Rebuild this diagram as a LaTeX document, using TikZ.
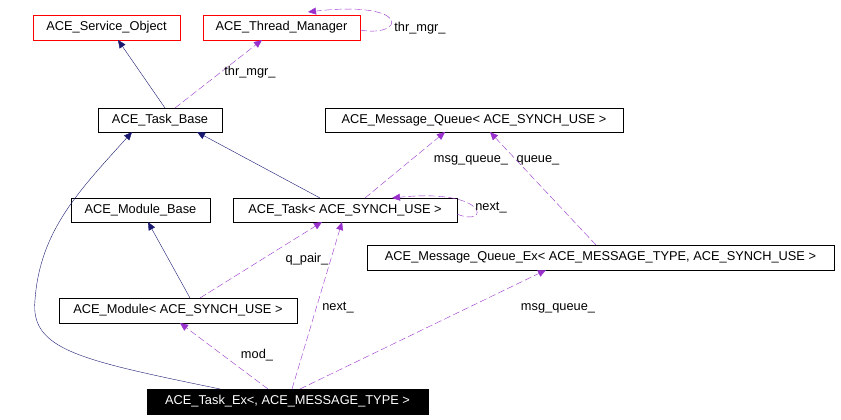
\documentclass[tikz,border=0pt]{standalone}
\usepackage{fontspec}
\setmainfont{Liberation Sans}
\usetikzlibrary{arrows.meta}
\definecolor{dpurple}{RGB}{153,50,204}
\definecolor{dnavy}{RGB}{25,25,112}
\begin{document}
\begin{tikzpicture}[x=1pt,y=-1pt,
  box/.style={draw=black,fill=white,inner sep=0pt,font=\fontsize{12.8}{14}\selectfont},
  red/.style={box,draw=red},
  inh/.style={draw=dnavy,-{Triangle[length=8pt,width=7pt,fill=dnavy]}},
  use/.style={draw=dpurple,dash pattern=on 7pt off 3pt,-{Triangle[length=8pt,width=7pt,fill=dpurple]}},
  lab/.style={font=\fontsize{12.8}{14}\selectfont,inner sep=1pt}]
\useasboundingbox (0,0) rectangle (841,420);
\node[red,minimum width=147,minimum height=25] (so) at (106.5,27.5) {ACE\_Service\_Object};
\node[red,minimum width=157,minimum height=25] (tm) at (281.5,27.5) {ACE\_Thread\_Manager};
\node[box,minimum width=124,minimum height=24] (tb) at (160,120) {ACE\_Task\_Base};
\node[box,minimum width=298,minimum height=24] (mq) at (474,120) {ACE\_Message\_Queue< ACE\_SYNCH\_USE >};
\node[box,minimum width=139,minimum height=24] (mb) at (140.5,210) {ACE\_Module\_Base};
\node[box,minimum width=224,minimum height=24] (tk) at (345,210) {ACE\_Task< ACE\_SYNCH\_USE >};
\node[box,minimum width=467,minimum height=25] (mqe) at (600.5,257.5) {ACE\_Message\_Queue\_Ex< ACE\_MESSAGE\_TYPE, ACE\_SYNCH\_USE >};
\node[box,minimum width=238,minimum height=25] (md) at (178,310.5) {ACE\_Module< ACE\_SYNCH\_USE >};
\node[box,fill=black,text=white,minimum width=281,minimum height=25] (tx) at (287.5,401.5) {ACE\_Task\_Ex<, ACE\_MESSAGE\_TYPE >};

\draw[inh] (165,108) -- (118,40);
\draw[use] (175,108) -- (262,40);
\node[lab] (l1) at (250,72) {thr\_mgr\_};
\draw[use] (360,30) .. controls (405,38) and (412,0) .. (308,12);
\node[lab] (l2) at (420,28) {thr\_mgr\_};
\draw[inh] (320,198) -- (197,132);
\draw[use] (365,198) -- (445,132);
\node[lab] (l3) at (471,160) {msg\_queue\_};
\draw[use] (596,245) -- (490,132);
\node[lab] (l4) at (538,160) {queue\_};
\draw[use] (457,214) .. controls (490,228) and (490,188) .. (392,198);
\node[lab] (l5) at (491,208) {next\_};
\draw[inh] (190,298) -- (148,222);
\draw[use] (200,298) -- (322,222);
\node[lab] (l6) at (307,259) {q\_pair\_};
\draw[inh] (220,389) .. controls (80,360) and (30,350) .. (35,300) .. controls (40,230) and (80,190) .. (132,132);
\draw[use] (268,389) -- (180,323);
\node[lab] (l7) at (257,355) {mod\_};
\draw[use] (292,389) -- (342,222);
\node[lab] (l8) at (338,308) {next\_};
\draw[use] (300,389) -- (546,270);
\node[lab] (l9) at (558,308) {msg\_queue\_};
\end{tikzpicture}
\end{document}
